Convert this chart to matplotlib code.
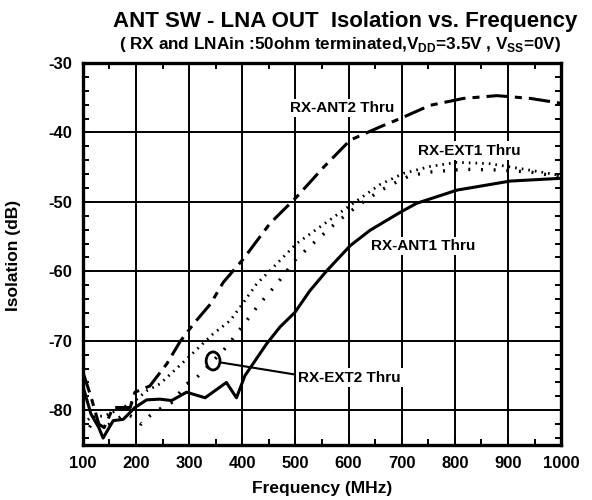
import matplotlib
matplotlib.use("Agg")
import matplotlib.pyplot as plt
from matplotlib.patches import Ellipse
from matplotlib.ticker import MultipleLocator

plt.rcParams["font.family"] = ["Liberation Sans", "DejaVu Sans"]
plt.rcParams["font.weight"] = "bold"
plt.rcParams["axes.unicode_minus"] = False

# RX-ANT1 Thru (solid)
ant1_f = [100, 115, 130, 138, 157, 176, 198, 220, 245, 267, 295, 330, 370, 389,
          405, 446, 471, 499, 527, 559, 603, 640, 697, 728, 804, 904, 1000]
ant1_db = [-76.5, -80.5, -82.5, -84.0, -81.5, -81.3, -79.6, -78.5, -78.4, -78.6, -77.4, -78.2, -76.0, -78.2,
           -75.0, -70.4, -68.0, -65.9, -62.8, -59.9, -56.3, -54.1, -51.5, -50.2, -48.3, -47.0, -46.6]

# RX-ANT2 Thru (long/short dash)
ant2_f = [100, 115, 130, 140, 157, 189, 198, 226, 258, 283, 310, 340, 364, 402,
          452, 502, 553, 603, 659, 697, 753, 816, 879, 942, 1000]
ant2_db = [-74.5, -78.0, -82.0, -82.5, -79.6, -79.6, -77.4, -76.5, -73.3, -70.1, -67.4, -64.7, -61.6, -58.2,
           -53.1, -49.3, -45.0, -41.1, -39.2, -38.0, -36.1, -35.1, -34.7, -35.1, -35.8]

# RX-EXT1 Thru (dense dots)
ext1_f = [100, 115, 141, 176, 200, 220, 245, 283, 308, 345, 377, 402, 427, 452,
          502, 546, 603, 659, 703, 753, 804, 866, 923, 1000]
ext1_db = [-82.0, -81.0, -80.8, -79.6, -78.5, -77.2, -76.2, -73.5, -71.7, -69.0, -67.1, -64.5, -61.8, -59.9,
           -56.0, -53.6, -50.5, -47.5, -45.9, -44.9, -44.3, -44.5, -45.2, -46.2]

# RX-EXT2 Thru (sparse dots)
ext2_f = [100, 120, 140, 160, 180, 195, 210, 226, 245, 267, 295, 314, 345, 370, 399,
          430, 465, 499, 540, 578, 618, 659, 691, 716, 753, 816, 879, 942, 1000]
ext2_db = [-84.0, -81.5, -82.5, -81.5, -80.5, -81.0, -82.0, -80.8, -79.8, -78.9, -76.2, -75.3, -72.9, -70.9, -68.0,
           -64.9, -61.8, -58.4, -55.5, -52.9, -50.5, -48.4, -47.1, -46.2, -45.7, -45.3, -45.4, -45.7, -46.4]

fig = plt.figure(figsize=(5.92, 5.0), dpi=100)
ax = fig.add_axes([0.140, 0.110, 0.808, 0.764])

ax.plot(ant1_f, ant1_db, color="black", lw=2.2, solid_joinstyle="round")
ax.plot(ant2_f, ant2_db, color="black", lw=2.2, linestyle=(0, (7, 2.3, 2.3, 2.3)))
ax.plot(ext1_f, ext1_db, color="black", lw=2.0, linestyle=(0, (0.6, 1.8)))
ax.plot(ext2_f, ext2_db, color="black", lw=2.4, linestyle=(0, (0.6, 3.2)))

ax.set_xlim(100, 1000)
ax.set_ylim(-85, -30)
ax.xaxis.set_major_locator(MultipleLocator(100))
ax.xaxis.set_minor_locator(MultipleLocator(50))
ax.yaxis.set_major_locator(MultipleLocator(10))
ax.yaxis.set_minor_locator(MultipleLocator(2))
ax.grid(True, which="major", color="black", lw=1.4)
ax.tick_params(which="both", direction="in", top=True, right=True, width=1.4,
               labelsize=12, pad=8)
ax.tick_params(which="major", length=5)
ax.tick_params(which="minor", length=4)
for s in ax.spines.values():
    s.set_linewidth(2.4)
for lab in ax.get_xticklabels() + ax.get_yticklabels():
    lab.set_fontweight("bold")

box = dict(facecolor="white", edgecolor="none", pad=1.5)
ax.text(588, -36.5, "RX-ANT2 Thru", ha="center", va="center", fontsize=11, bbox=box)
ax.text(827, -42.6, "RX-EXT1 Thru", ha="center", va="center", fontsize=11, bbox=box)
ax.text(741, -56.4, "RX-ANT1 Thru", ha="center", va="center", fontsize=11, bbox=box)
ax.text(505, -75.3, "RX-EXT2 Thru", ha="left", va="center", fontsize=11, bbox=box)

ax.add_patch(Ellipse((345, -72.9), 26, 2.6, fill=False, ec="black", lw=2))
ax.plot([358, 503], [-73.1, -74.9], color="black", lw=1.5)

fig.text(0.583, 0.958, "ANT SW - LNA OUT  Isolation vs. Frequency", ha="center", va="center",
         fontsize=16, fontweight="bold")
fig.text(0.575, 0.912, r"( RX and LNAin :50ohm terminated,V$_\mathregular{DD}$=3.5V , V$_\mathregular{SS}$=0V)",
         ha="center", va="center", fontsize=12.3, fontweight="bold")
fig.text(0.544, 0.024, "Frequency (MHz)", ha="center", va="center", fontsize=12.5, fontweight="bold")
fig.text(0.022, 0.49, "Isolation (dB)", ha="center", va="center", rotation=90, fontsize=12.5, fontweight="bold")

fig.savefig("out.png", dpi=100)
